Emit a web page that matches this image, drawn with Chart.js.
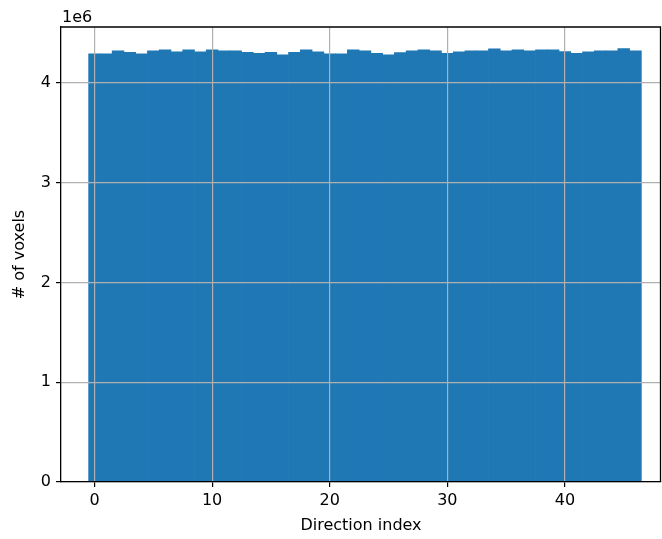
<!DOCTYPE html>
<html>
<head>
<meta charset="utf-8">
<script src="https://cdn.jsdelivr.net/npm/chart.js@4.4.1/dist/chart.umd.min.js"></script>
<style>
  html, body { margin: 0; padding: 0; background: #fff; overflow: hidden; }
  #wrap { position: relative; width: 662px; height: 539px; }
</style>
</head>
<body>
<div id="wrap"><canvas id="histChart"></canvas></div>
<script>
// voxel counts per direction index (in units of 1e6)
const directionIdx = [];
for (let i = 0; i < 47; i++) directionIdx.push(i);
const voxelCounts = [
    4.291, 4.291, 4.321, 4.308, 4.291, 4.321, 4.331, 4.311, 4.331, 4.311,
    4.331, 4.321, 4.321, 4.308, 4.298, 4.308, 4.281, 4.308, 4.331, 4.311,
    4.291, 4.291, 4.331, 4.321, 4.298, 4.281, 4.304, 4.321, 4.331, 4.321,
    4.298, 4.312, 4.321, 4.321, 4.341, 4.321, 4.331, 4.321, 4.331, 4.331,
    4.314, 4.298, 4.311, 4.321, 4.321, 4.344, 4.321
];
const xTicks = [0, 10, 20, 30, 40];
const yTicks = [0, 1, 2, 3, 4];

const FONT = 'DejaVu Sans';
Chart.defaults.font.family = FONT;
Chart.defaults.font.size = 16;
Chart.defaults.color = '#000';

// top + right spines and the "1e6" offset label
const extras = {
    id: 'extras',
    afterDraw(chart) {
        const { ctx, chartArea } = chart;
        ctx.save();
        ctx.strokeStyle = '#000';
        ctx.lineWidth = 1.3;
        ctx.beginPath();
        ctx.moveTo(chartArea.left, chartArea.top);
        ctx.lineTo(chartArea.right - 0.5, chartArea.top);
        ctx.lineTo(chartArea.right - 0.5, chartArea.bottom);
        ctx.stroke();
        ctx.fillStyle = '#000';
        ctx.font = '16px ' + FONT;
        ctx.textAlign = 'left';
        ctx.textBaseline = 'alphabetic';
        ctx.fillText('1e6', chartArea.left + 1, 22);
        ctx.restore();
    }
};

new Chart(document.getElementById('histChart'), {
    type: 'bar',
    data: {
        datasets: [{
            data: directionIdx.map((d, i) => ({ x: d, y: voxelCounts[i] * 1e6 })),
            backgroundColor: '#1f77b4',
            borderWidth: 0,
            barPercentage: 1.0,
            categoryPercentage: 1.0
        }]
    },
    options: {
        responsive: true,
        maintainAspectRatio: false,
        animation: false,
        layout: { padding: { top: 27, right: 1, left: 0, bottom: 0 } },
        plugins: { legend: { display: false }, tooltip: { enabled: false } },
        scales: {
            x: {
                type: 'linear',
                min: -2.85,
                max: 48.17,
                offset: false,
                afterBuildTicks: s => { s.ticks = xTicks.map(v => ({ value: v })); },
                afterFit: s => { s.height = 57; },
                ticks: { padding: 4, callback: v => String(v) },
                grid: { z: 1, offset: false, color: '#b0b0b0', lineWidth: 1.2, tickLength: 5, tickColor: '#000' },
                border: { z: 2, color: '#000', width: 1.3 },
                title: { display: true, text: 'Direction index', padding: { top: 0, bottom: 4 } }
            },
            y: {
                min: 0,
                max: 4.561e6,
                afterBuildTicks: s => { s.ticks = yTicks.map(v => ({ value: v * 1e6 })); },
                afterFit: s => { s.width = 61; },
                ticks: { padding: 5, callback: v => String(Math.round(v / 1e6)) },
                grid: { z: 1, color: '#b0b0b0', lineWidth: 1.2, tickLength: 5, tickColor: '#000' },
                border: { z: 2, color: '#000', width: 1.3 },
                title: { display: true, text: '# of voxels', padding: { top: 10, bottom: 0 } }
            }
        }
    },
    plugins: [extras]
});
</script>
</body>
</html>
